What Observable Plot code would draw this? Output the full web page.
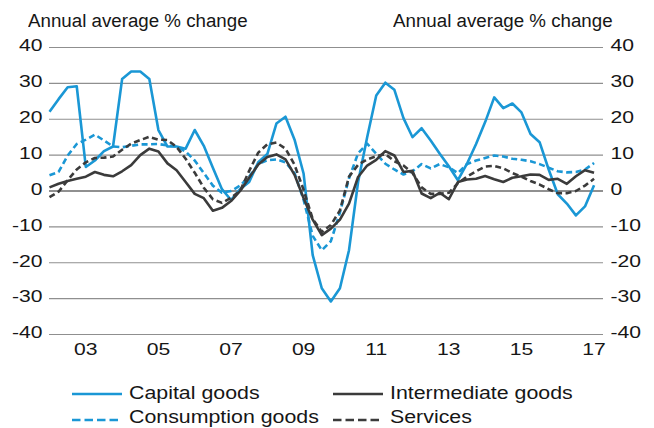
<!DOCTYPE html>
<html><head><meta charset="utf-8">
<script src="https://cdn.jsdelivr.net/npm/d3@7"></script>
<script src="https://cdn.jsdelivr.net/npm/@observablehq/plot@0.6"></script>
<style>
body{margin:0;background:#fff;font-family:"Liberation Sans",Arial,sans-serif;color:#161616;}
#wrap{position:relative;width:654px;height:428px;overflow:hidden;}
#head{position:relative;height:35px;}
.t{position:absolute;top:12px;font-size:18px;line-height:18px;white-space:nowrap;transform-origin:left center;transform:scaleX(1.04);}
#legend{position:relative;height:63px;}
.lt{position:absolute;font-size:17.5px;line-height:17.5px;white-space:nowrap;transform-origin:left center;transform:scaleX(1.22);}
.ls{position:absolute;}
</style></head>
<body><div id="wrap">
<div id="head"><span class="t" style="left:28px">Annual average % change</span><span class="t" style="left:393px">Annual average % change</span></div>
<div id="chart"></div>
<div id="legend"></div>
</div>
<script>
// Quarterly data, 2002 Q1 to 2017 Q1
const startYear = 2002;
const seriesNames = ["Capital goods", "Intermediate goods", "Consumption goods", "Services"];
const capitalGoods = [22.1,25.6,28.9,29.2,6.7,8.5,11.1,12.4,31.2,33.3,33.3,31.2,17.0,12.4,12.4,11.8,
  17.0,12.6,6.5,0.5,-2.5,0.5,2.5,8.0,10.3,18.8,20.7,14.3,4.8,-17.9,-27.1,-30.8,
  -27.1,-16.5,2.5,15.0,26.6,30.2,28.2,20.3,15.0,17.5,14.1,10.4,6.9,3.0,7.6,13.1,
  19.2,26.1,23.1,24.4,21.9,15.9,13.6,6.0,-0.9,-3.5,-6.8,-4.3,1.6];
const intermediateGoods = [1.0,2.0,2.8,3.4,4.0,5.3,4.5,4.1,5.5,7.2,10.0,11.8,11.0,7.7,5.8,2.5,
  -0.8,-2.0,-5.5,-4.7,-2.8,0.0,3.7,7.4,9.5,10.2,8.8,4.5,-2.0,-8.0,-12.3,-10.5,
  -8.0,-3.5,3.9,7.1,8.7,11.1,9.9,5.3,5.6,-0.7,-2.0,-0.5,-2.3,2.5,3.2,3.4,
  4.2,3.3,2.5,3.7,4.1,4.6,4.5,3.1,3.4,2.0,4.1,5.8,5.1];
const consumptionGoods = [4.4,5.3,9.9,13.1,14.3,15.7,14.1,12.4,12.2,12.6,13.0,13.0,13.1,12.7,12.4,11.0,
  8.5,5.0,1.5,-0.5,0.0,1.5,4.0,7.5,8.6,8.8,8.0,5.0,-2.5,-12.5,-16.5,-14.0,
  -6.0,3.5,10.5,13.2,10.4,7.6,6.0,4.6,5.5,7.5,6.3,7.5,6.6,5.0,7.5,8.5,
  9.2,9.9,9.6,9.0,8.7,8.3,7.5,6.5,5.5,5.2,5.3,6.0,7.8];
const services = [-1.7,-0.2,3.0,6.0,8.0,9.2,9.3,9.6,11.5,13.2,14.2,15.1,14.3,14.2,12.3,9.0,
  5.1,0.9,-2.3,-3.3,-1.9,0.0,5.6,10.7,13.0,13.5,11.8,7.3,0.3,-7.8,-11.4,-9.5,
  -5.4,4.0,7.3,8.8,9.7,10.3,8.3,7.1,5.0,1.0,-0.8,-0.8,-0.5,2.2,4.0,5.5,
  6.8,7.0,6.3,5.0,4.0,2.8,1.8,0.5,-0.6,-0.6,0.0,1.5,3.4];
const yTicks = [-40,-30,-20,-10,0,10,20,30,40];
const xTicks = [2003,2005,2007,2009,2011,2013,2015,2017];
const xTickLabels = ["03","05","07","09","11","13","15","17"];

const BLUE = "#1a97d5", DARK = "#3b3b3b";
const styles = {
  "Capital goods": {stroke: BLUE, dash: null},
  "Intermediate goods": {stroke: DARK, dash: null},
  "Consumption goods": {stroke: BLUE, dash: "6,3.5"},
  "Services": {stroke: DARK, dash: "6,3.5"}
};
const seriesValues = [capitalGoods, intermediateGoods, consumptionGoods, services];
const rows = [];
seriesNames.forEach((name, s) => seriesValues[s].forEach((v, k) => rows.push({series: name, t: startYear + k / 4, v})));

const drawOrder = ["Capital goods", "Consumption goods", "Intermediate goods", "Services"];
const yFmt = d => String(d);

const plot = Plot.plot({
  width: 654, height: 330,
  marginTop: 12, marginBottom: 31, marginLeft: 49, marginRight: 51,
  style: {fontFamily: '"Liberation Sans", Arial, sans-serif', fontSize: "16.5px", color: "#161616", background: "#fff"},
  x: {domain: [2002, 2017.26], label: null},
  y: {domain: [-40, 40], label: null},
  marks: [
    Plot.ruleY(yTicks.filter(d => d !== 0), {stroke: "#8f8f8f", strokeWidth: 1.2, strokeOpacity: 1}),
    Plot.ruleY([0], {stroke: "#222", strokeWidth: 1.2, strokeOpacity: 1}),
    ...drawOrder.map(name => Plot.line(rows.filter(r => r.series === name), {
      x: "t", y: "v", stroke: styles[name].stroke, strokeWidth: 2.6,
      strokeDasharray: styles[name].dash, strokeLinecap: "butt", strokeLinejoin: "round"
    })),
    Plot.axisY(yTicks, {anchor: "left", tickSize: 0, tickPadding: 7, label: null, dy: -1.5, tickFormat: yFmt}),
    Plot.axisY(yTicks, {anchor: "right", tickSize: 0, tickPadding: 7, label: null, dy: -1.5, tickFormat: yFmt}),
    Plot.axisX(xTicks, {anchor: "bottom", tickSize: 0, tickPadding: 9, label: null,
      tickFormat: d => xTickLabels[xTicks.indexOf(d)]})
  ]
});
document.getElementById("chart").appendChild(plot);
// widen tick label glyphs horizontally to match the reference's wide digits
for (const t of plot.querySelectorAll('g[aria-label$="tick label"] text')) {
  const w = t.getComputedTextLength();
  if (w > 0) {
    t.setAttribute("textLength", (w * 1.28).toFixed(2));
    t.setAttribute("lengthAdjust", "spacingAndGlyphs");
  }
}

// legend
const legend = document.getElementById("legend");
const legendPos = {
  "Capital goods": {lx: 72, tx: 129, ly: 29.3, ty: 19.5},
  "Intermediate goods": {lx: 333, tx: 390, ly: 29.3, ty: 19.5},
  "Consumption goods": {lx: 72, tx: 129, ly: 55, ty: 43.5},
  "Services": {lx: 333, tx: 390, ly: 55, ty: 43.5}
};
for (const name of seriesNames) {
  const p = legendPos[name], st = styles[name];
  const s = document.createElementNS("http://www.w3.org/2000/svg", "svg");
  s.setAttribute("width", 50); s.setAttribute("height", 6);
  s.setAttribute("class", "ls");
  s.style.left = p.lx + "px"; s.style.top = (p.ly - 3) + "px";
  const l = document.createElementNS("http://www.w3.org/2000/svg", "line");
  l.setAttribute("x1", 0); l.setAttribute("x2", 50); l.setAttribute("y1", 3); l.setAttribute("y2", 3);
  l.setAttribute("stroke", st.stroke); l.setAttribute("stroke-width", 2.6);
  if (st.dash) l.setAttribute("stroke-dasharray", "8.5,4");
  s.appendChild(l);
  legend.appendChild(s);
  const tx = document.createElement("span");
  tx.className = "lt"; tx.textContent = name;
  tx.style.left = p.tx + "px"; tx.style.top = p.ty + "px";
  legend.appendChild(tx);
}
</script>
</body></html>
